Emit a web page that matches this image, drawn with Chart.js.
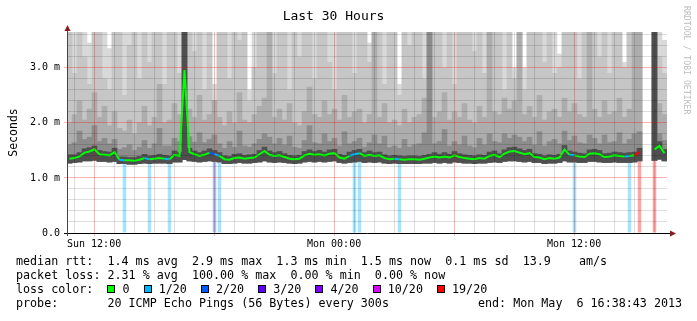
<!DOCTYPE html>
<html>
<head>
<meta charset="utf-8">
<script src="https://cdn.jsdelivr.net/npm/chart.js@4.4.1/dist/chart.umd.min.js"></script>
<style>
  html, body { margin: 0; padding: 0; background: #fff; }
  #wrap { position: relative; width: 697px; height: 321px; overflow: hidden; }
  #chart { position: absolute; left: 0; top: 0; }
  .legend { position: absolute; left: 16px; font-family: "DejaVu Sans Mono", monospace; font-size: 11.7px; line-height: 14px; white-space: pre; color: #000; }
  .box { display: inline-block; width: 6px; height: 6px; border: 1px solid #000; vertical-align: 0px; }
  #credit { position: absolute; left: 682px; top: 6px; writing-mode: vertical-rl; font-family: "DejaVu Sans Mono", monospace; font-size: 8.2px; color: #bdbdbd; white-space: pre; }
</style>
</head>
<body>
<div id="wrap">
  <canvas id="chart" width="697" height="321"></canvas>
  <div class="legend" id="legendText" style="top:254px"></div>
  <div class="legend" id="legendEnd" style="top:296px; left:478px"></div>
  <div id="credit">RRDTOOL / TOBI OETIKER</div>
</div>
<script>
// time in hours since Sun 00:00, one bin = 15 minutes
const START = 10.6453;          // Sun 10:38:43
const END = 40.6453;            // Mon 16:38:43
const STEP = 0.25;
const Y_MAX = 3.65;             // ms

const X_TICK_HOURS = [12, 24, 36];
const X_TICK_LABELS = ["Sun 12:00", "Mon 00:00", "Mon 12:00"];

const LOSS_LEVELS = [0, 1, 2, 3, 4, 10, 19];
const LOSS_NAMES = ["0", "1/20", "2/20", "3/20", "4/20", "10/20", "19/20"];
const LOSS_COLORS = ["#00ff00", "#00b8ff", "#0059ff", "#5e00ff", "#7e00ff", "#dd00ff", "#ff0000"];

// median rtt (ms)
const MEDIAN_RTT = [
  1.35,1.36,1.39,1.46,1.48,1.52,1.43,1.42,1.41,1.47,
  1.33,1.32,1.32,1.31,1.33,1.36,1.34,1.35,1.36,1.35,
  1.34,1.42,1.40,2.96,1.47,1.43,1.40,1.42,1.46,1.43,
  1.40,1.34,1.33,1.36,1.37,1.35,1.36,1.37,1.43,1.49,
  1.42,1.40,1.41,1.38,1.35,1.34,1.35,1.41,1.44,1.42,
  1.43,1.41,1.44,1.45,1.37,1.35,1.40,1.43,1.45,1.40,
  1.42,1.40,1.41,1.36,1.34,1.35,1.34,1.33,1.34,1.34,
  1.33,1.35,1.37,1.39,1.37,1.39,1.37,1.41,1.38,1.36,
  1.35,1.34,1.36,1.35,1.40,1.42,1.38,1.44,1.48,1.49,
  1.46,1.43,1.45,1.38,1.37,1.34,1.36,1.35,1.37,1.52,
  1.42,1.41,1.39,1.38,1.44,1.45,1.43,1.38,1.39,1.41,
  1.40,1.39,1.40,1.41,1.47,null,null,1.52,1.58,1.45
];

// lowest ping of each step (ms)
const PING_MIN = [
  1.27,1.28,1.29,1.31,1.31,1.32,1.30,1.30,1.29,1.30,
  1.26,1.26,1.25,1.25,1.26,1.27,1.26,1.27,1.27,1.27,
  1.26,1.29,1.29,1.33,1.31,1.30,1.29,1.30,1.31,1.30,
  1.29,1.26,1.26,1.27,1.28,1.27,1.27,1.28,1.29,1.31,
  1.29,1.28,1.29,1.28,1.27,1.26,1.27,1.29,1.30,1.29,
  1.30,1.29,1.30,1.31,1.28,1.27,1.28,1.29,1.30,1.28,
  1.29,1.28,1.29,1.27,1.26,1.27,1.26,1.26,1.26,1.26,
  1.26,1.27,1.27,1.28,1.27,1.28,1.27,1.29,1.28,1.27,
  1.27,1.26,1.27,1.27,1.28,1.29,1.28,1.30,1.31,1.31,
  1.30,1.29,1.30,1.28,1.28,1.26,1.27,1.27,1.28,1.31,
  1.29,1.29,1.28,1.28,1.30,1.30,1.29,1.28,1.28,1.29,
  1.28,1.28,1.28,1.29,1.31,null,null,1.32,1.34,1.31
];

// smoke: top of dense core around the median
const SMOKE_CORE = [
  1.42,1.42,1.46,1.53,1.55,1.58,1.50,1.48,1.47,1.54,
  1.38,1.38,1.37,1.37,1.39,1.43,1.40,1.41,1.43,1.41,
  1.40,1.49,1.46,3.70,1.54,1.49,1.46,1.49,1.53,1.50,
  1.46,1.40,1.39,1.43,1.44,1.41,1.42,1.43,1.50,1.56,
  1.49,1.46,1.48,1.44,1.41,1.40,1.41,1.48,1.51,1.48,
  1.50,1.47,1.51,1.52,1.43,1.41,1.47,1.50,1.52,1.46,
  1.49,1.46,1.47,1.42,1.40,1.41,1.40,1.39,1.40,1.40,
  1.39,1.41,1.43,1.46,1.43,1.46,1.43,1.48,1.44,1.42,
  1.41,1.40,1.42,1.41,1.47,1.49,1.44,1.51,1.55,1.56,
  1.53,1.50,1.52,1.44,1.43,1.40,1.42,1.41,1.43,1.59,
  1.49,1.47,1.45,1.44,1.51,1.52,1.50,1.44,1.45,1.47,
  1.46,1.45,1.46,1.47,1.54,null,null,3.70,1.66,1.52
];

// smoke: top of dark grey band
const SMOKE_DARK = [
  1.60,1.64,1.85,1.70,1.74,1.95,1.66,1.72,1.62,1.70,
  1.52,1.55,1.60,1.50,1.56,1.68,1.54,1.62,1.90,1.58,
  1.58,1.72,1.66,3.70,1.75,1.65,1.82,1.64,1.70,1.78,
  1.62,1.54,1.66,1.56,1.85,1.58,1.56,1.62,1.70,1.80,
  1.74,1.62,1.72,1.60,1.76,1.56,1.54,1.68,1.95,1.64,
  1.62,1.80,1.66,1.72,1.58,1.84,1.62,1.66,1.72,1.56,
  1.64,1.78,1.62,1.76,1.55,1.58,1.54,1.70,1.56,1.60,
  1.62,1.82,3.70,1.62,1.66,1.88,1.58,1.66,1.60,1.76,
  1.58,1.55,1.72,1.60,1.80,1.66,1.64,1.80,1.72,1.78,
  1.74,1.66,1.74,1.60,1.84,1.58,1.66,1.70,1.62,1.85,
  1.68,1.76,1.64,1.62,1.78,1.72,1.62,1.78,1.64,1.66,
  1.82,1.62,1.70,1.80,1.84,null,null,3.70,1.80,1.68
];

// smoke: top of light grey band
const SMOKE_LIGHT = [
  2.00,2.15,2.40,2.05,2.25,2.55,2.10,2.30,1.95,2.20,
  1.90,1.85,2.05,1.80,2.00,2.30,1.95,2.10,2.70,2.00,
  2.05,2.35,2.15,3.70,2.25,2.10,2.50,2.05,2.15,2.40,
  2.10,1.95,2.20,2.00,2.55,2.05,2.00,2.15,2.30,2.45,
  3.70,2.10,2.25,2.05,2.35,2.00,1.95,2.20,2.65,2.15,
  2.10,2.40,2.15,2.25,2.05,2.50,2.10,2.20,2.25,2.00,
  2.15,3.70,2.10,2.35,2.00,2.05,1.95,2.25,2.00,2.10,
  2.15,2.45,3.70,2.10,2.20,2.55,2.05,2.20,2.10,2.35,
  2.05,2.00,2.30,2.10,3.70,2.20,2.15,2.45,2.25,2.40,
  3.70,2.15,2.30,2.10,2.50,2.05,2.20,2.25,2.10,2.45,
  2.20,2.35,2.15,2.10,3.70,2.25,2.10,2.40,2.15,2.20,
  2.45,2.10,2.25,3.70,3.70,null,null,3.70,2.35,2.15
];

// smoke: top of mid grey band
const SMOKE_MID = [
  3.70,2.90,3.70,3.20,2.70,3.70,3.70,2.80,2.60,3.70,
  3.70,2.50,3.40,3.70,2.80,3.70,3.10,3.70,3.70,2.70,
  3.70,3.70,2.90,3.70,3.70,3.30,3.70,2.60,3.70,2.40,
  3.70,3.70,2.80,3.70,3.50,3.70,2.40,3.00,3.70,3.70,
  3.70,2.90,3.70,3.70,2.60,3.70,3.20,3.70,3.70,2.80,
  3.70,3.70,3.10,2.60,3.70,3.70,3.70,2.90,3.70,3.70,
  3.10,3.70,3.70,2.70,3.70,3.70,2.50,3.70,3.40,3.70,
  3.70,2.80,3.70,3.70,3.70,3.00,3.70,2.70,3.70,3.70,
  3.70,3.30,3.70,2.90,3.70,3.70,3.70,2.60,3.70,2.80,
  3.70,2.60,3.70,3.70,3.70,3.10,3.70,2.90,3.00,3.70,
  3.70,3.70,2.80,3.70,3.70,3.70,3.20,3.70,2.90,3.70,
  3.70,3.00,3.70,3.70,3.70,null,null,3.70,3.20,2.90
];

// highest ping of each step (ms)
const PING_MAX = [
  3.70,3.70,3.70,3.70,3.45,3.70,3.70,3.70,3.35,3.70,
  3.70,3.70,3.70,3.70,3.70,3.70,3.70,3.70,3.70,3.70,
  3.70,3.70,3.70,3.70,3.70,3.70,3.70,3.70,3.70,2.70,
  3.70,3.70,3.70,3.70,3.70,3.70,2.60,3.70,3.70,3.70,
  3.70,3.70,3.70,3.70,3.70,3.70,3.70,3.70,3.70,3.70,
  3.70,3.70,3.70,3.70,3.70,3.70,3.70,3.70,3.70,3.70,
  3.45,3.70,3.70,3.70,3.70,3.70,2.70,3.70,3.70,3.70,
  3.70,3.70,3.70,3.70,3.70,3.70,3.70,3.70,3.70,3.70,
  3.70,3.70,3.70,3.70,3.70,3.70,3.70,3.70,3.70,3.00,
  3.70,3.00,3.70,3.70,3.70,3.70,3.70,3.70,3.25,3.70,
  3.70,3.70,3.70,3.70,3.70,3.70,3.70,3.70,3.70,3.70,
  3.70,3.10,3.70,3.70,3.70,null,null,3.70,3.70,3.50
];

// lost pings per step (out of 20)
const LOSS = [
  0,0,0,0,0,0,0,0,0,0,
  0,1,0,0,0,0,1,0,0,0,
  1,0,0,0,0,0,0,0,0,2,
  1,0,0,0,0,0,0,0,0,0,
  0,0,0,0,0,0,0,0,0,0,
  0,0,0,0,0,0,0,1,1,0,
  0,0,0,0,0,0,1,0,0,0,
  0,0,0,0,0,0,0,0,0,0,
  0,0,0,0,0,0,0,0,0,0,
  0,0,0,0,0,0,0,0,0,0,
  0,1,0,0,0,0,0,0,0,0,
  0,0,1,0,19,0,0,19,0,0
];

(function(){
  const MONO = "'DejaVu Sans Mono', monospace";
  const RED_GRID = "rgba(255,0,0,0.3)";
  const GREY_GRID = "rgba(0,0,0,0.13)";

  const TIMES = MEDIAN_RTT.map((_, i) => START + (i + 0.5) * STEP);

  const HOUR_TICKS = [];
  for (let h = Math.ceil(START); h <= Math.floor(END); h++) HOUR_TICKS.push(h);
  const Y_TICKS = [];
  for (let k = 0; k * 0.2 <= Y_MAX; k++) Y_TICKS.push(+(k * 0.2).toFixed(1));

  function lossIndex(n){
    let idx = 0;
    LOSS_LEVELS.forEach((lv, i) => { if (n >= lv) idx = i; });
    return idx;
  }
  function lossColor(n){ return LOSS_COLORS[lossIndex(n || 0)]; }

  function band(low, high){
    const out = [];
    TIMES.forEach((t, i) => {
      if (low[i] == null || high[i] == null) return;
      out.push({ x: t, y: [low[i], high[i]] });
    });
    return out;
  }

  function smoke(label, high, color, order){
    return {
      type: "bar", label, data: band(PING_MIN, high),
      backgroundColor: color, borderWidth: 0, grouped: false,
      categoryPercentage: 1, barPercentage: 1, order
    };
  }

  // loss background runs from the axis up to where the smoke starts
  const lossData = [];
  const lossBg = [];
  TIMES.forEach((t, i) => {
    if (!LOSS[i]) return;
    lossData.push({ x: t, y: [0, PING_MIN[i] + 0.05] });
    lossBg.push(lossColor(LOSS[i]) + "5c");
  });

  const axisArrows = {
    id: "axisArrows",
    afterDraw(chart){
      const { ctx, chartArea: a } = chart;
      ctx.save();
      ctx.lineWidth = 1;
      ctx.strokeStyle = "#000";
      ctx.beginPath();
      ctx.moveTo(a.left - 3, a.bottom + 0.5);
      ctx.lineTo(a.right + 4, a.bottom + 0.5);
      ctx.stroke();
      ctx.strokeStyle = "#444";
      ctx.beginPath();
      ctx.moveTo(a.left + 0.5, a.bottom + 3);
      ctx.lineTo(a.left + 0.5, a.top - 3);
      ctx.stroke();
      ctx.fillStyle = "#8b1a1a";
      ctx.beginPath();
      ctx.moveTo(a.right + 9, a.bottom + 0.5);
      ctx.lineTo(a.right + 3, a.bottom - 2.5);
      ctx.lineTo(a.right + 3, a.bottom + 3.5);
      ctx.fill();
      ctx.beginPath();
      ctx.moveTo(a.left + 0.5, a.top - 7);
      ctx.lineTo(a.left - 2.5, a.top - 1);
      ctx.lineTo(a.left + 3.5, a.top - 1);
      ctx.fill();
      ctx.restore();
    }
  };

  new Chart(document.getElementById("chart"), {
    type: "bar",
    data: {
      datasets: [
        {
          type: "line", label: "median rtt",
          data: TIMES.map((t, i) => ({ x: t, y: MEDIAN_RTT[i] })),
          borderColor: LOSS_COLORS[0], borderWidth: 2, pointRadius: 0,
          tension: 0, spanGaps: false, order: 0,
          segment: { borderColor: c => lossColor(LOSS[c.p1DataIndex]) }
        },
        smoke("core", SMOKE_CORE, "#4f4f4f", 1),
        smoke("dark", SMOKE_DARK, "#8c8c8c", 2),
        smoke("light", SMOKE_LIGHT, "#adadad", 3),
        smoke("mid", SMOKE_MID, "#c6c6c6", 4),
        smoke("max", PING_MAX, "#d9d9d9", 5),
        {
          type: "bar", label: "loss", data: lossData,
          backgroundColor: lossBg, borderWidth: 0, grouped: false,
          categoryPercentage: 1, barPercentage: 0.7, order: 6
        }
      ]
    },
    options: {
      responsive: false,
      animation: false,
      layout: { padding: { left: 0, right: 30, top: 0, bottom: 0 } },
      plugins: {
        legend: { display: false },
        tooltip: { enabled: false },
        title: {
          display: true, text: "Last 30 Hours", color: "#000",
          font: { family: MONO, size: 13, weight: "normal" },
          padding: { top: 9, bottom: 7.4 }
        }
      },
      scales: {
        x: {
          type: "linear", min: START, max: END, offset: false,
          afterBuildTicks: s => { s.ticks = HOUR_TICKS.map(v => ({ value: v })); },
          afterFit: s => { s.height = 88; },
          ticks: {
            autoSkip: false, maxRotation: 0, padding: 2, color: "#000",
            font: { family: MONO, size: 10 },
            callback: v => {
              const k = X_TICK_HOURS.indexOf(v);
              return k < 0 ? "" : X_TICK_LABELS[k];
            }
          },
          grid: {
            offset: false, z: 1, tickLength: 3,
            color: c => (c.tick && c.tick.value % 6 === 0) ? RED_GRID : GREY_GRID,
            tickColor: c => (c.tick && c.tick.value % 6 === 0) ? RED_GRID : "transparent"
          },
          border: { display: false }
        },
        y: {
          min: 0, max: Y_MAX,
          afterBuildTicks: s => { s.ticks = Y_TICKS.map(v => ({ value: v })); },
          afterFit: s => { s.width = 67; },
          ticks: {
            autoSkip: false, padding: 4, color: "#000",
            font: { family: MONO, size: 10 },
            callback: v => {
              if (Math.abs(v - Math.round(v)) > 1e-6) return "";
              return v === 0 ? "0.0" : v.toFixed(1) + " m";
            }
          },
          grid: {
            z: 1, tickLength: 3,
            color: c => (c.tick && Number.isInteger(c.tick.value)) ? RED_GRID : GREY_GRID,
            tickColor: c => (c.tick && Number.isInteger(c.tick.value)) ? RED_GRID : "transparent"
          },
          border: { display: false },
          title: {
            display: true, text: "Seconds", color: "#000",
            font: { family: MONO, size: 11.5 },
            padding: { top: 7, bottom: 0 }
          }
        }
      }
    },
    plugins: [axisArrows]
  });

  // legend text below the graph
  let swatches = "";
  LOSS_NAMES.forEach((name, i) => {
    swatches += `<span class="box" style="background:${LOSS_COLORS[i]}"></span> ${name}`;
    if (i < LOSS_NAMES.length - 1) swatches += "  ";
  });
  document.getElementById("legendText").innerHTML =
    "median rtt:  1.4 ms avg  2.9 ms max  1.3 ms min  1.5 ms now  0.1 ms sd  13.9    am/s\n" +
    "packet loss: 2.31 % avg  100.00 % max  0.00 % min  0.00 % now\n" +
    "loss color:  " + swatches + "\n" +
    "probe:       20 ICMP Echo Pings (56 Bytes) every 300s";
  document.getElementById("legendEnd").textContent = "end: Mon May  6 16:38:43 2013";
})();
</script>
</body>
</html>
